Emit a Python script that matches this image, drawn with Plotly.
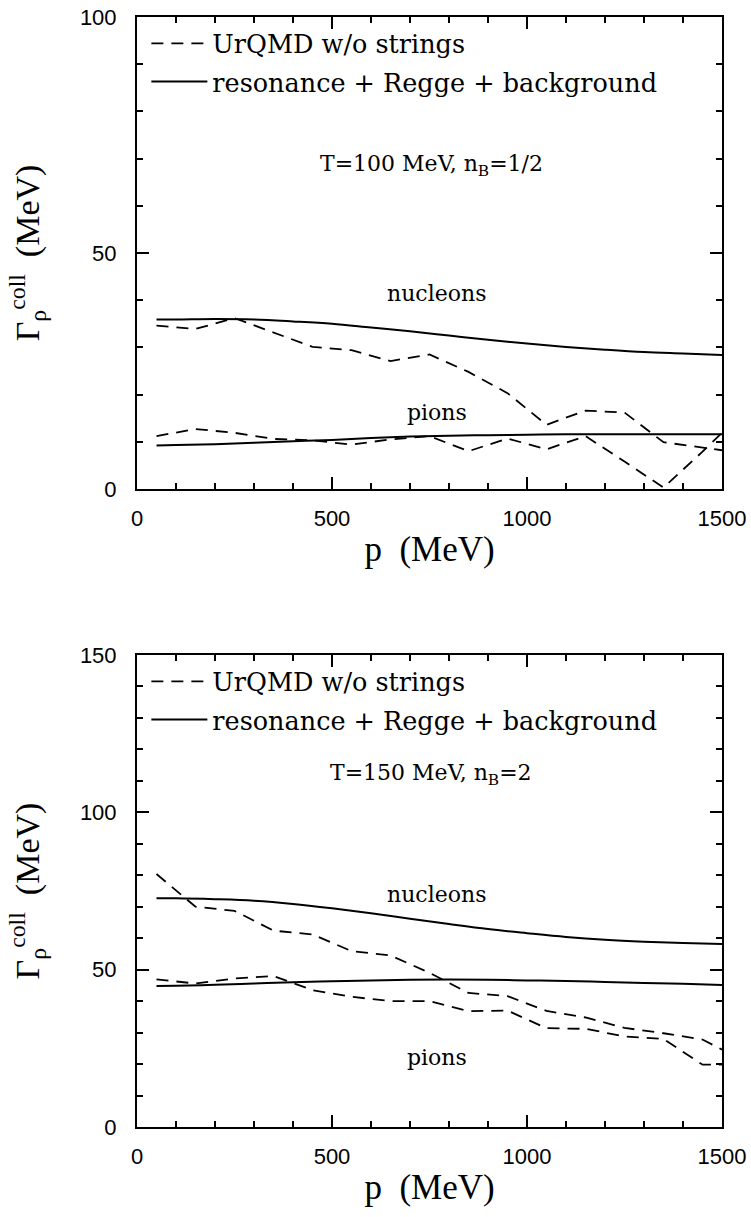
import plotly.graph_objects as go

# ---------------- data ----------------
P_URQMD = [50, 150, 250, 350, 450, 550, 650, 750, 850, 950, 1050, 1150, 1250, 1350, 1450, 1500]
P_MODEL = [50, 100, 200, 300, 400, 500, 600, 700, 800, 900, 1000, 1100, 1200, 1300, 1400, 1500]

# top panel: T=100 MeV, n_B=1/2
top_nuc_urqmd = [34.6, 33.9, 36.2, 33.2, 30.1, 29.4, 27.1, 28.5, 24.8, 20.3, 13.6, 16.6, 16.2, 9.9, 8.7, 8.2]
top_pi_urqmd = [11.2, 12.7, 11.9, 10.6, 10.3, 9.4, 10.5, 11.2, 8.0, 10.7, 8.4, 11.2, 5.8, 0.3, 7.9, 11.9]
top_nuc_model = [35.9, 35.9, 36.0, 35.9, 35.5, 35.0, 34.2, 33.4, 32.5, 31.6, 30.8, 30.1, 29.5, 29.0, 28.7, 28.4]
top_pi_model = [9.2, 9.3, 9.5, 9.8, 10.1, 10.4, 10.8, 11.1, 11.3, 11.4, 11.5, 11.6, 11.6, 11.6, 11.6, 11.6]

# bottom panel: T=150 MeV, n_B=2
bot_nuc_urqmd = [80.4, 70.0, 68.7, 62.4, 61.2, 55.9, 54.5, 49.0, 42.6, 41.6, 36.9, 34.8, 31.5, 29.8, 27.8, 24.6]
bot_pi_urqmd = [46.9, 45.6, 47.2, 48.0, 43.5, 41.4, 40.0, 40.0, 36.8, 37.0, 31.4, 31.2, 28.8, 28.0, 19.8, 19.8]
bot_nuc_model = [72.7, 72.7, 72.4, 71.9, 70.9, 69.5, 67.9, 66.2, 64.5, 62.9, 61.6, 60.4, 59.5, 58.9, 58.5, 58.2]
bot_pi_model = [44.8, 44.9, 45.2, 45.6, 46.0, 46.3, 46.6, 46.8, 46.9, 46.8, 46.6, 46.4, 46.1, 45.8, 45.5, 45.1]

X_TICKS = [0, 500, 1000, 1500]
TOP_Y_TICKS = [0, 50, 100]
BOT_Y_TICKS = [0, 50, 100, 150]

LEG_URQMD = "UrQMD w/o strings"
LEG_MODEL = "resonance + Regge + background"

# ---------------- styles ----------------
SERIF = "DejaVu Serif"
TITLE_SERIF = "Liberation Serif"
SANS = "Liberation Sans"
DASH = "12px,8px"

fig = go.Figure()


def add_panel(xa, ya, legend, nuc_u, pi_u, nuc_m, pi_m):
    fig.add_trace(go.Scatter(x=P_URQMD, y=nuc_u, mode="lines", name=LEG_URQMD,
                             line=dict(color="black", width=1.8, dash=DASH),
                             xaxis=xa, yaxis=ya, legend=legend, legendgroup=legend + "u",
                             showlegend=True))
    fig.add_trace(go.Scatter(x=P_URQMD, y=pi_u, mode="lines", name=LEG_URQMD,
                             line=dict(color="black", width=1.8, dash=DASH),
                             xaxis=xa, yaxis=ya, legend=legend, legendgroup=legend + "u",
                             showlegend=False))
    fig.add_trace(go.Scatter(x=P_MODEL, y=nuc_m, mode="lines", name=LEG_MODEL,
                             line=dict(color="black", width=2, shape="spline"),
                             xaxis=xa, yaxis=ya, legend=legend, legendgroup=legend + "m",
                             showlegend=True))
    fig.add_trace(go.Scatter(x=P_MODEL, y=pi_m, mode="lines", name=LEG_MODEL,
                             line=dict(color="black", width=2, shape="spline"),
                             xaxis=xa, yaxis=ya, legend=legend, legendgroup=legend + "m",
                             showlegend=False))


add_panel("x", "y", "legend", top_nuc_urqmd, top_pi_urqmd, top_nuc_model, top_pi_model)
add_panel("x2", "y2", "legend2", bot_nuc_urqmd, bot_pi_urqmd, bot_nuc_model, bot_pi_model)

axis_common = dict(
    showline=True, linewidth=2, linecolor="black", mirror="allticks",
    ticks="inside", ticklen=12, tickwidth=1.5, tickcolor="black",
    showgrid=False, zeroline=False, automargin=False,
    tickfont=dict(family=SANS, size=22, color="black"),
)

x_title = dict(text="p  (MeV)", font=dict(family=TITLE_SERIF, size=35, color="black"), standoff=6)
y_title = dict(text="Γ<sub>ρ</sub><sup>coll</sup>  (MeV)",
               font=dict(family=TITLE_SERIF, size=34, color="black"), standoff=30)

TOP_DOM = [0.5748, 1.0]
BOT_DOM = [0.0, 0.4252]
minor_x = dict(ticks="inside", ticklen=6, tickwidth=1.5, tickcolor="black", dtick=100, tick0=0)
minor_y = dict(ticks="inside", ticklen=6, tickwidth=1.5, tickcolor="black", dtick=10, tick0=0)

legend_common = dict(xanchor="left", yanchor="top", bgcolor="rgba(0,0,0,0)",
                     font=dict(family=SERIF, size=25.5, color="black"),
                     tracegroupgap=2, itemwidth=56)

fig.update_layout(
    width=751, height=1217,
    margin=dict(l=137, r=29, t=17, b=90, autoexpand=False),
    plot_bgcolor="white", paper_bgcolor="white",
    xaxis=dict(axis_common, range=[0, 1500], tickvals=X_TICKS, anchor="y", domain=[0, 1],
               minor=minor_x, title=x_title, ticklabelstandoff=9),
    yaxis=dict(axis_common, range=[0, 100], tickvals=TOP_Y_TICKS, anchor="x", domain=TOP_DOM,
               minor=minor_y, title=y_title, ticklabelstandoff=14),
    xaxis2=dict(axis_common, range=[0, 1500], tickvals=X_TICKS, anchor="y2", domain=[0, 1],
                minor=minor_x, title=x_title, ticklabelstandoff=9),
    yaxis2=dict(axis_common, range=[0, 150], tickvals=BOT_Y_TICKS, anchor="x2", domain=BOT_DOM,
                minor=minor_y, title=y_title, ticklabelstandoff=14),
    legend=dict(legend_common, x=0.016, y=0.997),
    legend2=dict(legend_common, x=0.016, y=BOT_DOM[1] - 0.003),
)

label_font = dict(family=SERIF, size=22, color="black")
annotations = [
    ("x", "y", 755, 68.6, "T=100 MeV, n<sub>B</sub>=1/2"),
    ("x", "y", 768, 41.5, "nucleons"),
    ("x", "y", 770, 16.1, "pions"),
    ("x2", "y2", 755, 111.9, "T=150 MeV, n<sub>B</sub>=2"),
    ("x2", "y2", 768, 74.0, "nucleons"),
    ("x2", "y2", 770, 22.0, "pions"),
]
for xr, yr, ax, ay, txt in annotations:
    fig.add_annotation(x=ax, y=ay, xref=xr, yref=yr, text=txt, showarrow=False,
                       font=label_font, xanchor="center", yanchor="middle")

fig.write_html("out.html")
